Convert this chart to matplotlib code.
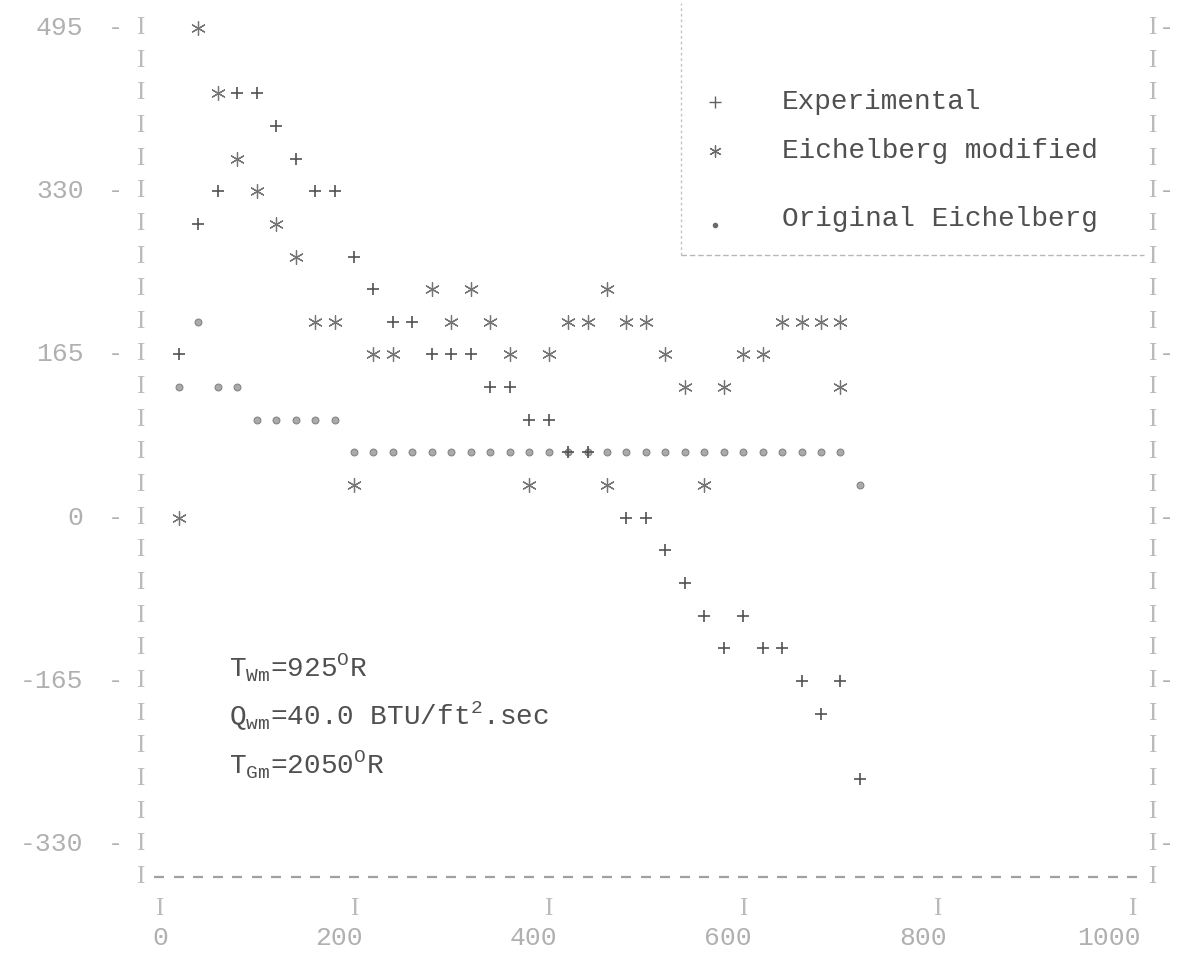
import numpy as np
import matplotlib
matplotlib.use("Agg")
import matplotlib.pyplot as plt

# ---- data (x in line-printer columns of 20 units, y in rows of 33 units) ----
exp_x = [20, 40, 60, 80, 100, 120, 140, 160, 180, 200, 220, 240, 260, 280, 300,
         320, 340, 360, 380, 400, 420, 440, 480, 500, 520, 540, 560, 580, 600,
         620, 640, 660, 680, 700, 720]
exp_y = [165, 297, 330, 429, 429, 396, 363, 330, 330, 264, 231, 198, 198, 165, 165,
         165, 132, 132, 99, 99, 66, 66, 0, 0, -33, -66, -99, -132, -99,
         -132, -132, -165, -198, -165, -264]

mod_x = [20, 40, 60, 80, 100, 120, 140, 160, 180, 200, 220, 240, 280, 300, 320,
         340, 360, 380, 400, 420, 440, 460, 460, 480, 500, 520, 540, 560, 580,
         600, 620, 640, 660, 680, 700, 700]
mod_y = [0, 495, 429, 363, 330, 297, 264, 198, 198, 33, 165, 165, 231, 198, 231,
         198, 165, 33, 165, 198, 198, 231, 33, 198, 198, 165, 132, 33, 132,
         165, 165, 198, 198, 198, 198, 132]

orig_x = [20, 40, 60, 80, 100, 120, 140, 160, 180, 200, 220, 240, 260, 280, 300,
          320, 340, 360, 380, 400, 420, 440, 460, 480, 500, 520, 540, 560, 580,
          600, 620, 640, 660, 680, 700, 720]
orig_y = [132, 198, 132, 132, 99, 99, 99, 99, 99, 66, 66, 66, 66, 66, 66,
          66, 66, 66, 66, 66, 66, 66, 66, 66, 66, 66, 66, 66, 66,
          66, 66, 66, 66, 66, 66, 33]

y_ticks = [495, 330, 165, 0, -165, -330]
y_tick_labels = ["495", "330", "165", "0", "-165", "-330"]
x_ticks = [0, 200, 400, 600, 800, 1000]
x_tick_labels = ["0", "200", "400", "600", "800", "1000"]

legend_labels = ["Experimental", "Eichelberg modified", "Original Eichelberg"]

MONO = ["Liberation Mono", "DejaVu Sans Mono"]
SERIF = ["Liberation Serif", "DejaVu Serif"]

fig = plt.figure(figsize=(11.88, 9.65), dpi=100)
ax = fig.add_axes([0.10143, 0.07378, 0.8845, 0.9229])
ax.set_xlim(-40, 1040)
ax.set_ylim(-380, 520)
ax.axis("off")

axis_col = "#bababa"
label_col = "#b0b0b0"

# printer-style frame: a column of "I" at each row on both sides
rows = np.arange(-363, 496, 33)
for r in rows:
    for xc in (-20, 1020):
        ax.text(xc, r, "I", ha="center", va="center", fontsize=18, family=SERIF,
                color=axis_col, clip_on=False)

for v, lab in zip(y_ticks, y_tick_labels):
    ax.text(-45, v, "-", ha="center", va="center", fontsize=18, family=MONO,
            color=label_col, clip_on=False)
    ax.text(1035, v, "-", ha="center", va="center", fontsize=18, family=MONO,
            color=label_col, clip_on=False)
    ax.text(-78, v, lab, ha="right", va="center", fontsize=19, family=MONO,
            color=label_col, clip_on=False)

# dashed bottom axis, one dash per column
cols = np.arange(0, 1001, 20)
ax.plot(cols, np.full(cols.shape, -363), linestyle="none", marker="_",
        markersize=7.5, markeredgewidth=1.6, color="#a0a0a0", clip_on=False)

for v, lab in zip(x_ticks, x_tick_labels):
    ax.text(v, -395, "I", ha="center", va="center", fontsize=18, family=SERIF,
            color=axis_col, clip_on=False)
    ax.text(v + 9, -425, lab, ha="right", va="center", fontsize=19, family=MONO,
            color=label_col, clip_on=False)

# series
ax.scatter(orig_x, orig_y, marker="o", s=24, facecolor="#aaaaaa",
           edgecolor="#858585", linewidths=0.8, zorder=3, clip_on=False)
ax.scatter(mod_x, mod_y, marker=(6, 2, 0), s=100, color="#747474",
           linewidths=0.9, zorder=4, clip_on=False)
ax.scatter(exp_x, exp_y, marker="+", s=85, color="#525252",
           linewidths=1.2, zorder=5, clip_on=False)

# key box
ax.plot([536, 536], [266, 520], color="#c4c4c4", lw=1.0, ls=(0, (2, 2)),
        clip_on=False)
ax.plot([536, 1012], [266, 266], color="#b8b8b8", lw=1.0, ls=(0, (4, 2)),
        clip_on=False)
key_y = [420, 371, 302]
ax.scatter([571], [key_y[0]], marker="+", s=80, color="#606060", linewidths=1.0)
ax.scatter([571], [key_y[1]], marker=(6, 2, 0), s=70, color="#6a6a6a",
           linewidths=0.9)
ax.scatter([571], [key_y[2] - 6], marker="o", s=16, color="#6a6a6a",
           linewidths=0)
for yk, lab in zip(key_y, legend_labels):
    ax.text(640, yk, lab, ha="left", va="center", fontsize=20, family=MONO,
            color="#505050")

# run conditions
ann_col = "#505050"
ax.text(72, -152, r"T$_{\mathregular{Wm}}$=925$^{\mathregular{O}}$R", ha="left",
        va="center", fontsize=20, family=MONO, color=ann_col)
ax.text(72, -201, r"Q$_{\mathregular{wm}}$=40.0 BTU/ft$^{\mathregular{2}}$.sec",
        ha="left", va="center", fontsize=20, family=MONO, color=ann_col)
ax.text(72, -250, r"T$_{\mathregular{Gm}}$=2050$^{\mathregular{O}}$R", ha="left",
        va="center", fontsize=20, family=MONO, color=ann_col)

fig.savefig("out.png", dpi=100, facecolor="white")
